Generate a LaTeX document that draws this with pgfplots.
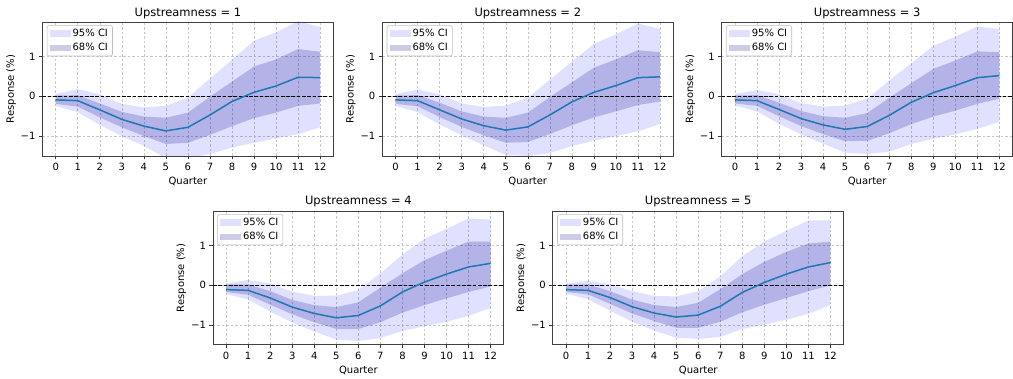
\documentclass[border=0pt]{standalone}
\usepackage{fontspec}
\setmainfont{DejaVu Sans}
\usepackage{pgfplots}
\pgfplotsset{compat=1.18}
\usepackage{pgfplotstable}
\usepgfplotslibrary{fillbetween}
\definecolor{ciB}{RGB}{0,0,139}
\definecolor{tabblue}{RGB}{31,119,180}

\pgfplotstableread{
q m l68 u68 l95 u95
0 -0.09 -0.19 0.02 -0.24 0.06
1 -0.11 -0.26 0.03 -0.40 0.18
2 -0.34 -0.53 -0.18 -0.72 0.05
3 -0.58 -0.78 -0.39 -1.00 -0.19
4 -0.75 -1.00 -0.51 -1.25 -0.28
5 -0.87 -1.20 -0.54 -1.55 -0.24
6 -0.78 -1.17 -0.41 -1.56 -0.03
7 -0.47 -0.97 -0.01 -1.45 0.45
8 -0.13 -0.75 0.37 -1.29 0.92
9 0.10 -0.55 0.75 -1.17 1.40
10 0.26 -0.41 0.93 -1.06 1.61
11 0.48 -0.24 1.19 -0.95 1.89
12 0.47 -0.18 1.12 -0.78 1.74
}\tA
\pgfplotstableread{
q m l68 u68 l95 u95
0 -0.09 -0.19 0.02 -0.24 0.06
1 -0.11 -0.25 0.03 -0.40 0.17
2 -0.34 -0.52 -0.16 -0.71 0.05
3 -0.57 -0.77 -0.38 -0.98 -0.18
4 -0.74 -0.98 -0.51 -1.23 -0.27
5 -0.85 -1.17 -0.54 -1.48 -0.23
6 -0.77 -1.15 -0.41 -1.50 -0.04
7 -0.47 -0.95 -0.02 -1.43 0.42
8 -0.14 -0.73 0.35 -1.25 0.87
9 0.10 -0.53 0.72 -1.12 1.32
10 0.27 -0.38 0.93 -1.00 1.56
11 0.47 -0.22 1.16 -0.88 1.83
12 0.49 -0.13 1.11 -0.70 1.70
}\tB
\pgfplotstableread{
q m l68 u68 l95 u95
0 -0.09 -0.18 0.02 -0.23 0.06
1 -0.11 -0.24 0.03 -0.38 0.16
2 -0.33 -0.50 -0.16 -0.69 0.05
3 -0.56 -0.75 -0.37 -0.96 -0.17
4 -0.72 -0.95 -0.50 -1.19 -0.26
5 -0.83 -1.13 -0.54 -1.42 -0.23
6 -0.76 -1.12 -0.42 -1.45 -0.06
7 -0.48 -0.93 -0.04 -1.39 0.40
8 -0.15 -0.70 0.33 -1.20 0.83
9 0.09 -0.51 0.69 -1.07 1.27
10 0.27 -0.36 0.90 -0.96 1.50
11 0.47 -0.19 1.13 -0.82 1.76
12 0.52 -0.06 1.11 -0.64 1.69
}\tC
\pgfplotstableread{
q m l68 u68 l95 u95
0 -0.11 -0.17 0.02 -0.22 0.05
1 -0.13 -0.24 0.02 -0.36 0.13
2 -0.32 -0.49 -0.15 -0.66 0.04
3 -0.55 -0.73 -0.37 -0.94 -0.16
4 -0.71 -0.93 -0.50 -1.16 -0.27
5 -0.82 -1.10 -0.55 -1.37 -0.26
6 -0.76 -1.10 -0.43 -1.40 -0.12
7 -0.52 -0.93 -0.06 -1.33 0.30
8 -0.17 -0.69 0.30 -1.15 0.77
9 0.08 -0.50 0.63 -1.03 1.17
10 0.28 -0.33 0.87 -0.92 1.42
11 0.46 -0.17 1.10 -0.77 1.68
12 0.55 -0.03 1.10 -0.57 1.65
}\tD
\pgfplotstableread{
q m l68 u68 l95 u95
0 -0.11 -0.17 0.02 -0.21 0.04
1 -0.13 -0.23 0.02 -0.35 0.11
2 -0.31 -0.47 -0.15 -0.64 0.03
3 -0.54 -0.71 -0.36 -0.92 -0.15
4 -0.70 -0.90 -0.50 -1.14 -0.27
5 -0.80 -1.07 -0.55 -1.32 -0.28
6 -0.75 -1.07 -0.44 -1.35 -0.15
7 -0.53 -0.92 -0.10 -1.30 0.22
8 -0.18 -0.68 0.28 -1.10 0.73
9 0.07 -0.49 0.59 -0.99 1.10
10 0.28 -0.32 0.84 -0.87 1.37
11 0.46 -0.15 1.05 -0.72 1.63
12 0.57 0.00 1.10 -0.50 1.63
}\tE

\newcommand{\panel}[4]{%
\begin{axis}[at={(#1,#2)}, anchor=south west, scale only axis,
  width=291pt, height=134pt,
  xmin=-0.6, xmax=12.6, ymin=-1.5, ymax=1.87,
  xtick={0,...,12}, ytick={-1,0,1}, yticklabels={−1,0,1},
  xtick pos=bottom, ytick pos=left,
  /pgf/number format/assume math mode=true,
  tick align=outside, major tick length=3.5pt,
  tick style={black!80, line width=0.6pt},
  axis line style={black!75, line width=0.8pt},
  grid=major, major grid style={gray!45, dash pattern=on 2.5pt off 2pt, line width=0.5pt},
  ticklabel style={font=\fontsize{10}{12}\selectfont},
  label style={font=\fontsize{10}{12}\selectfont},
  title style={font=\fontsize{11.5}{13}\selectfont, yshift=-6pt},
  title={Upstreamness = #4},
  xlabel={Quarter}, ylabel={Response (\%)},
  xlabel style={yshift=0pt}, ylabel style={yshift=-2pt},
  legend style={at={(0.015,0.975)}, anchor=north west, draw=black!25, line width=0.6pt, fill=white,
    rounded corners=2pt, font=\fontsize{10}{12}\selectfont,
    inner xsep=2.5pt, inner ysep=1.5pt, row sep=1.5pt,
    /tikz/every even column/.append style={column sep=4pt}},
  legend cell align=left,
]
\addlegendimage{legend image code/.code={\path[fill=blue, fill opacity=0.12, draw=none, sharp corners] (0pt,-3.3pt) rectangle (21pt,3.3pt);}}
\addlegendentry{95\% CI}
\addlegendimage{legend image code/.code={\path[fill=ciB, fill opacity=0.2, draw=none, sharp corners] (0pt,-3.3pt) rectangle (21pt,3.3pt);}}
\addlegendentry{68\% CI}
\addplot[name path=u95, draw=none, forget plot] table[x=q,y=u95]{#3};
\addplot[name path=l95, draw=none, forget plot] table[x=q,y=l95]{#3};
\addplot[fill=blue, fill opacity=0.12, draw=none, forget plot] fill between[of=u95 and l95];
\addplot[name path=u68, draw=none, forget plot] table[x=q,y=u68]{#3};
\addplot[name path=l68, draw=none, forget plot] table[x=q,y=l68]{#3};
\addplot[fill=ciB, fill opacity=0.2, draw=none, forget plot] fill between[of=u68 and l68];
\addplot[black, line width=0.9pt, dash pattern=on 3.7pt off 1.6pt, forget plot] coordinates {(-0.6,0) (12.6,0)};
\addplot[tabblue, line width=1.5pt, forget plot] table[x=q,y=m]{#3};
\end{axis}}

\begin{document}
\begin{tikzpicture}
\path (0,0) rectangle (1013pt,375pt);
\panel{42.5pt}{219pt}{\tA}{1}
\panel{382.5pt}{219pt}{\tB}{2}
\panel{722pt}{219pt}{\tC}{3}
\panel{213pt}{30pt}{\tD}{4}
\panel{553pt}{30pt}{\tE}{5}
\end{tikzpicture}
\end{document}
